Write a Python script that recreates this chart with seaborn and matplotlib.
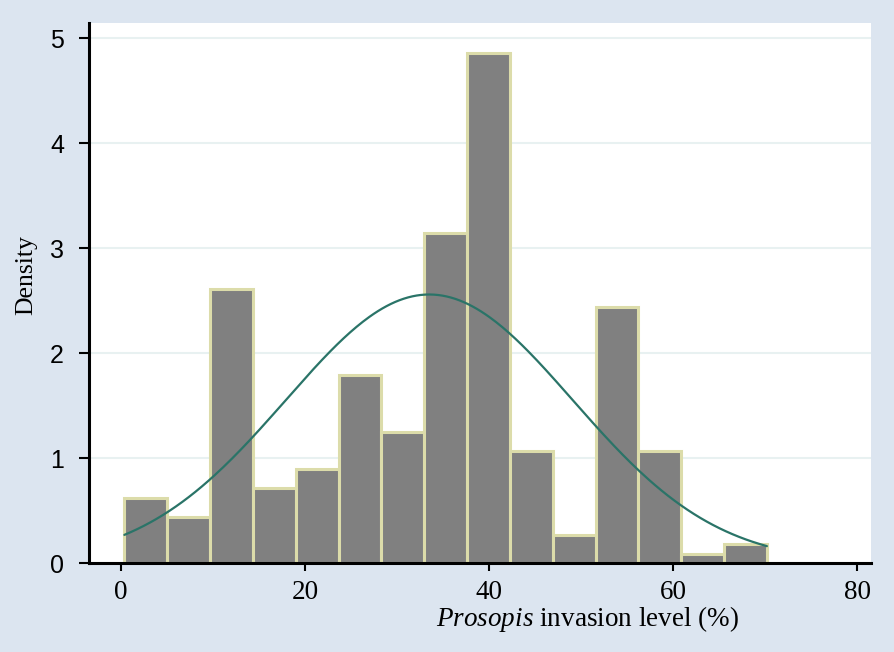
import numpy as np
import pandas as pd
import seaborn as sns
import matplotlib.pyplot as plt

# histogram of invasion level (bins)
bin_start = 0.36
bin_width = 4.656
density = [0.62, 0.44, 2.61, 0.71, 0.895, 1.79, 1.25, 3.14, 4.86,
           1.067, 0.267, 2.44, 1.067, 0.083, 0.178]

# fitted normal curve, drawn over the data range only
norm_mean = 33.5
norm_sd = 15.6
data_min = 0.36
data_max = 70.2

y_ticks = [0, 1, 2, 3, 4, 5]
x_ticks = [0, 20, 40, 60, 80]

bg = '#dce5f0'
sns.set_style('white')
plt.rcParams['font.family'] = ['Liberation Serif', 'DejaVu Serif']
plt.rcParams['mathtext.fontset'] = 'custom'
plt.rcParams['mathtext.rm'] = 'Liberation Serif'
plt.rcParams['mathtext.it'] = 'Liberation Serif:italic'

fig = plt.figure(figsize=(8.94, 6.52), dpi=100, facecolor=bg)
ax = fig.add_axes([0.0996, 0.1365, 0.8747, 0.8282])

edges = bin_start + bin_width * np.arange(len(density) + 1)
mids = (edges[:-1] + edges[1:]) / 2
hist = pd.DataFrame({'mid': mids, 'density': density})
sns.histplot(data=hist, x='mid', weights='density', binwidth=bin_width,
             binrange=(edges[0], edges[-1]), stat='count',
             color='#808080', edgecolor='#dcdcaa', linewidth=2.2, alpha=1, ax=ax, zorder=2)

xs = np.linspace(data_min, data_max, 300)
ys = 100 / (norm_sd * np.sqrt(2 * np.pi)) * np.exp(-0.5 * ((xs - norm_mean) / norm_sd) ** 2)
sns.lineplot(x=xs, y=ys, color='#2a7468', linewidth=1.6, ax=ax, zorder=3)

#faint gridlines like stata
for t in y_ticks:
    ax.axhline(t, color='#e8f1f1', linewidth=1.5, zorder=1)

ax.set_xlim(-3.48, 81.52)
ax.set_ylim(0, 5.143)
ax.set_xticks(x_ticks)
ax.set_yticks(y_ticks)
ax.set_yticklabels([str(t) for t in y_ticks], family=['Liberation Sans'], fontsize=18)
ax.set_xticklabels([str(t) for t in x_ticks], fontsize=19.5)
ax.tick_params(axis='y', direction='out', length=7, width=1.5, pad=11, left=True,
               color='black', labelcolor='black')
ax.tick_params(axis='x', direction='out', length=6, width=1.5, pad=6, bottom=True,
               color='black', labelcolor='black')

ax.set_ylabel('Density', fontsize=18.5, color='black')
ax.set_xlabel(r'$\it{Prosopis}$ invasion level (%)', fontsize=19.5, color='black')
ax.yaxis.set_label_coords(-0.0665, 0.534)
ax.xaxis.set_label_coords(0.638, -0.076)

sns.despine(ax=ax)
for s in ['left', 'bottom']:
    ax.spines[s].set_linewidth(2.2)
    ax.spines[s].set_color('black')

plt.savefig('out.png', dpi=100, facecolor=bg)
